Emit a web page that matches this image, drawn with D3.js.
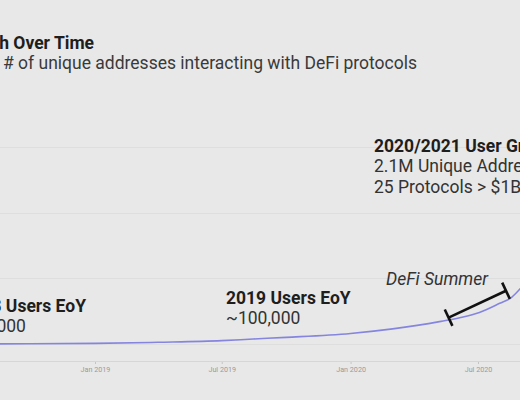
<!DOCTYPE html>
<html>
<head>
<meta charset="utf-8">
<script src="https://cdn.jsdelivr.net/npm/d3@7"></script>
<style>
  html, body { margin: 0; padding: 0; background: #e8e8e8; overflow: hidden; }
  svg { display: block; font-family: Roboto, "Noto Sans", sans-serif; }
</style>
</head>
<body>
<svg id="chart" width="520" height="400"></svg>
<script>
// ---- data (values in millions of unique addresses) ----
const dates = ["2018-08-01","2018-10-01","2019-01-01","2019-04-01","2019-07-01","2019-08-15","2019-10-01","2020-01-01","2020-03-01","2020-05-07","2020-06-05","2020-07-03","2020-08-01","2020-08-18","2020-08-31"];
const users = [0.0, 0.003, 0.008, 0.025, 0.05, 0.075, 0.1, 0.16, 0.23, 0.34, 0.40, 0.48, 0.62, 0.71, 0.85];
const tickDates = ["2019-01-01","2019-07-01","2020-01-01","2020-07-01"];
const gridValues = [0, 1, 2, 3];
const summerStart = ["2020-05-20", 0.40];
const summerEnd = ["2020-08-10", 0.81];

const titleText = "DeFi User Growth Over Time";
const subtitleText = "# of unique addresses interacting with DeFi protocols";
const note2018 = ["2018 Users EoY", "~50,000"];
const note2019 = ["2019 Users EoY", "~100,000"];
const note2020 = ["2020/2021 User Growth", "2.1M Unique Addresses", "25 Protocols > $1B TVL"];
const summerLabel = "DeFi Summer";

const FS = "17.5px";
const parse = d3.timeParse("%Y-%m-%d");
const data = dates.map((d, i) => ({ date: parse(d), v: users[i] }));

const svg = d3.select("#chart");

const x = d3.scaleTime()
  .domain([parse("2019-01-01"), parse("2020-07-01")])
  .range([95, 478]);
const y = d3.scaleLinear()
  .domain([-0.26, 3])
  .range([361, 147]);

// gridlines
svg.append("g").selectAll("line").data(gridValues).join("line")
  .attr("x1", 0).attr("x2", 520)
  .attr("y1", d => Math.round(y(d)) + 0.5).attr("y2", d => Math.round(y(d)) + 0.5)
  .attr("stroke", "#dedede").attr("stroke-width", 1);

// x axis
const xAxis = d3.axisBottom(x)
  .tickValues(tickDates.map(parse))
  .tickFormat(d3.timeFormat("%b %Y"))
  .tickSizeInner(3).tickSizeOuter(0).tickPadding(3);
const gx = svg.append("g").attr("transform", `translate(0,${y.range()[0]})`).call(xAxis);
gx.select(".domain").remove();
gx.append("line").attr("x1", 0).attr("x2", 520).attr("y1", 0.5).attr("y2", 0.5)
  .attr("stroke", "#d6d6d6");
gx.selectAll(".tick line").attr("stroke", "#c4c4c4");
gx.selectAll(".tick text").attr("fill", "#9a9a9a").style("font-size", "7.2px")
  .style("font-family", "Roboto, sans-serif");

// line
const line = d3.line().x(d => x(d.date)).y(d => y(d.v)).curve(d3.curveMonotoneX);
svg.append("path").datum(data)
  .attr("fill", "none").attr("stroke", "#8585e0").attr("stroke-width", 1.6)
  .attr("d", line);

// DeFi summer bracket
const p1 = [x(parse(summerStart[0])), y(summerStart[1])];
const p2 = [x(parse(summerEnd[0])), y(summerEnd[1])];
const dx = p2[0] - p1[0], dy = p2[1] - p1[1];
const len = Math.hypot(dx, dy);
const nx = -dy / len * 9, ny = dx / len * 9;
const br = svg.append("g").attr("stroke", "#111").attr("stroke-width", 2.6).attr("stroke-linecap", "butt");
br.append("line").attr("x1", p1[0]).attr("y1", p1[1]).attr("x2", p2[0]).attr("y2", p2[1]);
[p1, p2].forEach(p => {
  br.append("line").attr("x1", p[0] + nx).attr("y1", p[1] + ny).attr("x2", p[0] - nx).attr("y2", p[1] - ny);
});

// title & subtitle
svg.append("text").attr("x", 94).attr("y", 48.5).attr("text-anchor", "end")
  .attr("fill", "#1e1e1e").style("font-weight", "bold").style("font-size", FS)
  .text(titleText);
svg.append("text").attr("x", 3).attr("y", 69).attr("fill", "#3a3a3a")
  .style("font-size", FS).text(subtitleText);

// 2018 note
const n18 = svg.append("text").attr("x", 86).attr("y", 311.5).attr("text-anchor", "end")
  .attr("fill", "#1e1e1e").style("font-weight", "bold").style("font-size", FS).text(note2018[0]);
const n18x = 86 - n18.node().getComputedTextLength();
svg.append("text").attr("x", n18x).attr("y", 332).attr("fill", "#333")
  .style("font-size", FS).text(note2018[1]);

// 2019 note
svg.append("text").attr("x", 226).attr("y", 304).attr("fill", "#1e1e1e")
  .style("font-weight", "bold").style("font-size", FS).text(note2019[0]);
svg.append("text").attr("x", 226).attr("y", 323.5).attr("fill", "#333")
  .style("font-size", FS).text(note2019[1]);

// 2020/2021 note
note2020.forEach((t, i) => {
  svg.append("text").attr("x", 374).attr("y", 152 + i * 20.3)
    .attr("fill", i === 0 ? "#1e1e1e" : "#333")
    .style("font-weight", i === 0 ? "bold" : "normal")
    .style("font-size", FS).text(t);
});

// DeFi Summer label
svg.append("text").attr("x", 386).attr("y", 285).attr("fill", "#333")
  .style("font-style", "italic").style("font-size", FS).text(summerLabel);
</script>
</body>
</html>
